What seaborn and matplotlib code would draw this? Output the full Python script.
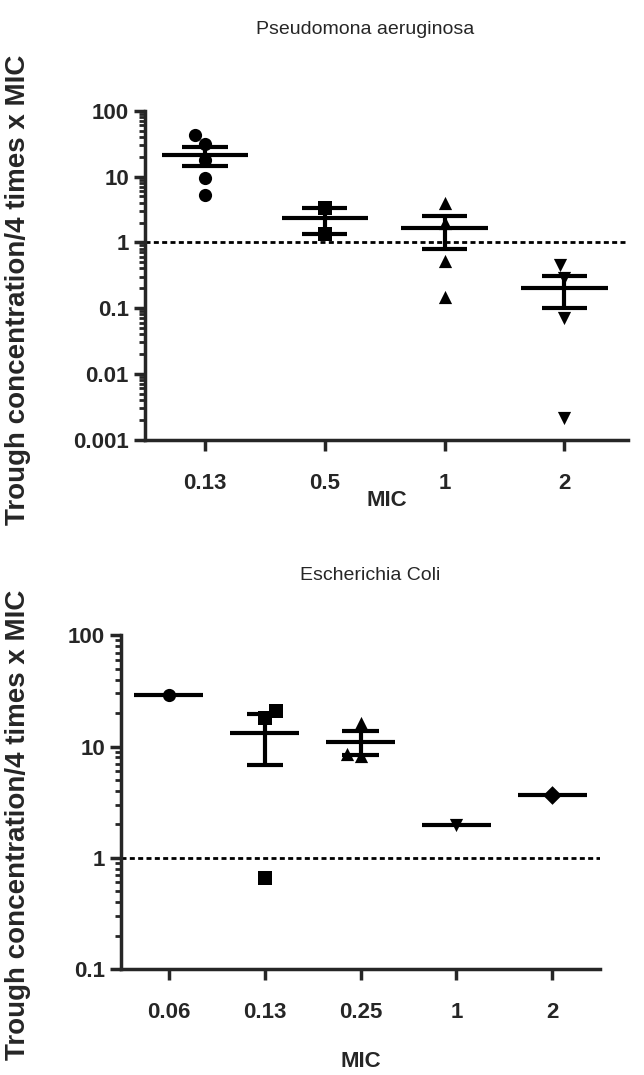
import numpy as np
import pandas as pd
import matplotlib.pyplot as plt
import seaborn as sns
from matplotlib.ticker import FuncFormatter

# Pseudomona aeruginosa: trough concentration / 4 times x MIC, per MIC group
pa_mic = ['0.13', '0.5', '1', '2']
pa_013 = [43, 31, 18, 9.4, 5.2]
pa_05 = [3.3, 1.35]
pa_1 = [3.9, 2.0, 0.52, 0.15]
pa_2 = [0.45, 0.29, 0.071, 0.0021]
pa_markers = ['o', 's', '^', 'v']

# Escherichia Coli
ec_mic = ['0.06', '0.13', '0.25', '1', '2']
ec_006 = [29]
ec_013 = [21, 18, 0.66]
ec_025 = [16.4, 8.6, 8.2]
ec_1 = [1.97]
ec_2 = [3.65]
ec_markers = ['o', 's', '^', 'v', 'D']

ylabel = 'Trough concentration/4 times x MIC'


def long_df(mics, groups):
    rows = []
    for m, vals in zip(mics, groups):
        for v in vals:
            rows.append({'MIC': m, 'ratio': v})
    return pd.DataFrame(rows)


pa = long_df(pa_mic, [pa_013, pa_05, pa_1, pa_2])
ec = long_df(ec_mic, [ec_006, ec_013, ec_025, ec_1, ec_2])

sns.set_style('ticks')
plt.rcParams['font.family'] = ['Liberation Sans', 'DejaVu Sans']

fig = plt.figure(figsize=(6.44, 10.75), dpi=100)
ax1 = fig.add_axes([0.225, 0.591, 0.75, 0.306])
ax2 = fig.add_axes([0.188, 0.0986, 0.744, 0.3104])


def draw_panel(ax, df, mics, markers, ylim, xlim):
    for m, mk in zip(mics, markers):
        sub = df[df['MIC'] == m]
        sns.swarmplot(data=sub, x='MIC', y='ratio', order=mics, marker=mk,
                      color='black', size=9.5, log_scale=True, ax=ax, zorder=3)
    # mean with SEM, computed on the linear values
    stats = df.groupby('MIC', sort=False)['ratio'].agg(['mean', 'sem'])
    stats = stats.reindex(mics)
    pos = np.arange(len(mics))
    ax.hlines(stats['mean'], pos - 0.36, pos + 0.36, color='black', lw=3, zorder=4)
    ok = stats['sem'].notna().values
    lo = (stats['mean'] - stats['sem']).values[ok]
    hi = (stats['mean'] + stats['sem']).values[ok]
    ax.vlines(pos[ok], lo, hi, color='black', lw=3, zorder=4)
    ax.hlines(lo, pos[ok] - 0.19, pos[ok] + 0.19, color='black', lw=3, zorder=4)
    ax.hlines(hi, pos[ok] - 0.19, pos[ok] + 0.19, color='black', lw=3, zorder=4)

    ax.axhline(1, color='black', lw=2, ls=(0, (1.8, 1.2)), zorder=2)
    ax.set_ylim(*ylim)
    ax.set_xlim(*xlim)
    ax.yaxis.set_major_formatter(FuncFormatter(lambda v, p: '%g' % v))
    sns.despine(ax=ax)
    for s in ['left', 'bottom']:
        ax.spines[s].set_linewidth(2.5)
    ax.tick_params(axis='both', which='major', width=2.5, length=8, labelsize=16)
    ax.tick_params(axis='y', which='minor', width=2, length=4)
    ax.tick_params(axis='x', pad=16)
    for t in ax.get_xticklabels() + ax.get_yticklabels():
        t.set_fontweight('bold')
    ax.set_ylabel('')


draw_panel(ax1, pa, pa_mic, pa_markers, (0.001, 100), (-0.5, 3.53))
draw_panel(ax2, ec, ec_mic, ec_markers, (0.1, 100), (-0.5, 4.5))

ax1.set_xlabel('MIC', fontsize=16, fontweight='bold', labelpad=-3)
ax2.set_xlabel('MIC', fontsize=16, fontweight='bold', labelpad=20)

fig.text(0.567, 1 - 30 / 1075, 'Pseudomona aeruginosa', ha='center', va='center', fontsize=14)
fig.text(0.575, 1 - 576 / 1075, 'Escherichia Coli', ha='center', va='center', fontsize=14)
fig.text(0.028, 1 - 290 / 1075, ylabel, rotation=90, ha='center', va='center',
         fontsize=20, fontweight='bold')
fig.text(0.028, 1 - 825 / 1075, ylabel, rotation=90, ha='center', va='center',
         fontsize=20, fontweight='bold')

fig.savefig('out.png', dpi=100)
